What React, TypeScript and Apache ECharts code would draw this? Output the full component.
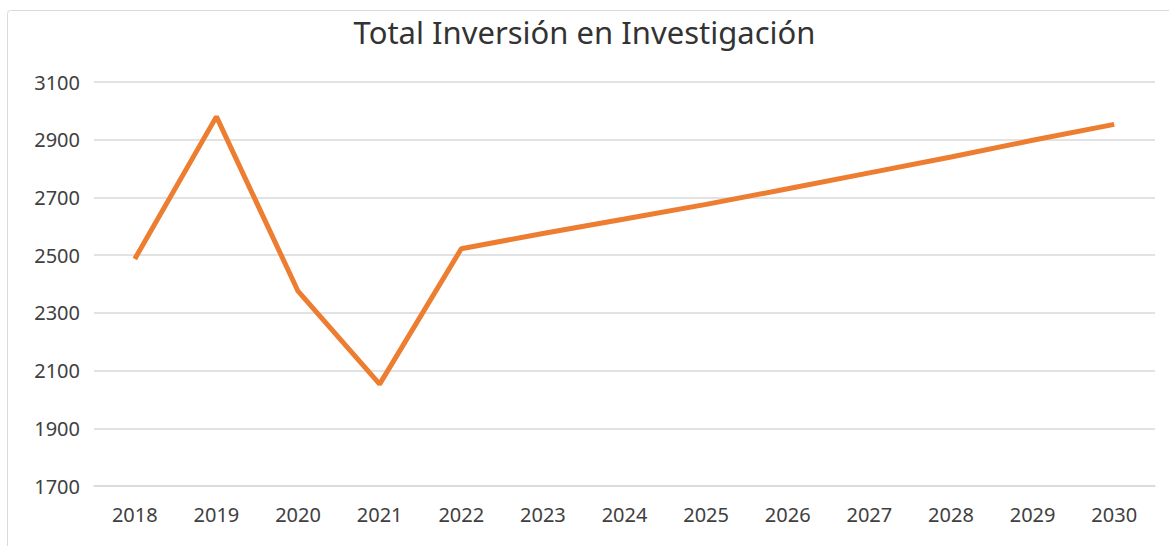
import React, { useEffect, useRef } from "react";
import * as echarts from "echarts";

const years = ["2018", "2019", "2020", "2021", "2022", "2023", "2024", "2025", "2026", "2027", "2028", "2029", "2030"];
const inversion = [2487, 2980, 2375, 2053, 2522, 2575, 2625, 2676, 2730, 2785, 2840, 2898, 2953];
const titleText = "Total Inversión en Investigación";

export default function App() {
  const ref = useRef<HTMLDivElement>(null);
  useEffect(() => {
    if (!ref.current) return;
    const chart = echarts.init(ref.current, null, { renderer: "svg" });
    chart.setOption({
      animation: false,
      backgroundColor: "#ffffff",
      title: {
        text: titleText,
        left: "center",
        top: 11,
        textStyle: { fontFamily: "Noto Sans", fontSize: 31, fontWeight: "normal", color: "#333333" },
      },
      graphic: [
        {
          type: "rect",
          shape: { x: 7.5, y: 10.5, width: 1175, height: 545, r: 3 },
          style: { fill: "none", stroke: "#d9d9d9", lineWidth: 1 },
          silent: true,
          z: -1,
        },
      ],
      grid: { left: 94, right: 14, top: 82, bottom: 60 },
      xAxis: {
        type: "category",
        data: years,
        boundaryGap: true,
        axisLine: { show: true, lineStyle: { color: "#d9d9d9", width: 1.5 } },
        axisTick: { show: false },
        axisLabel: { fontFamily: "Noto Sans", fontSize: 20, color: "#404040", margin: 18 },
      },
      yAxis: {
        type: "value",
        min: 1700,
        max: 3100,
        interval: 200,
        axisLine: { show: false },
        axisTick: { show: false },
        splitLine: { lineStyle: { color: "#d9d9d9", width: 1.5 } },
        axisLabel: {
          fontFamily: "Noto Sans",
          fontSize: 20,
          color: "#404040",
          margin: 14,
          formatter: (v: number) => String(v),
        },
      },
      series: [
        {
          type: "line",
          data: inversion,
          symbol: "none",
          lineStyle: { color: "#ED7D31", width: 5 },
          itemStyle: { color: "#ED7D31" },
        },
      ],
    });
    return () => chart.dispose();
  }, []);
  return (
    <div style={{ position: "fixed", left: 0, top: 0, width: 1169, height: 546 }}>
      <div ref={ref} style={{ width: 1169, height: 546 }} />
    </div>
  );
}
